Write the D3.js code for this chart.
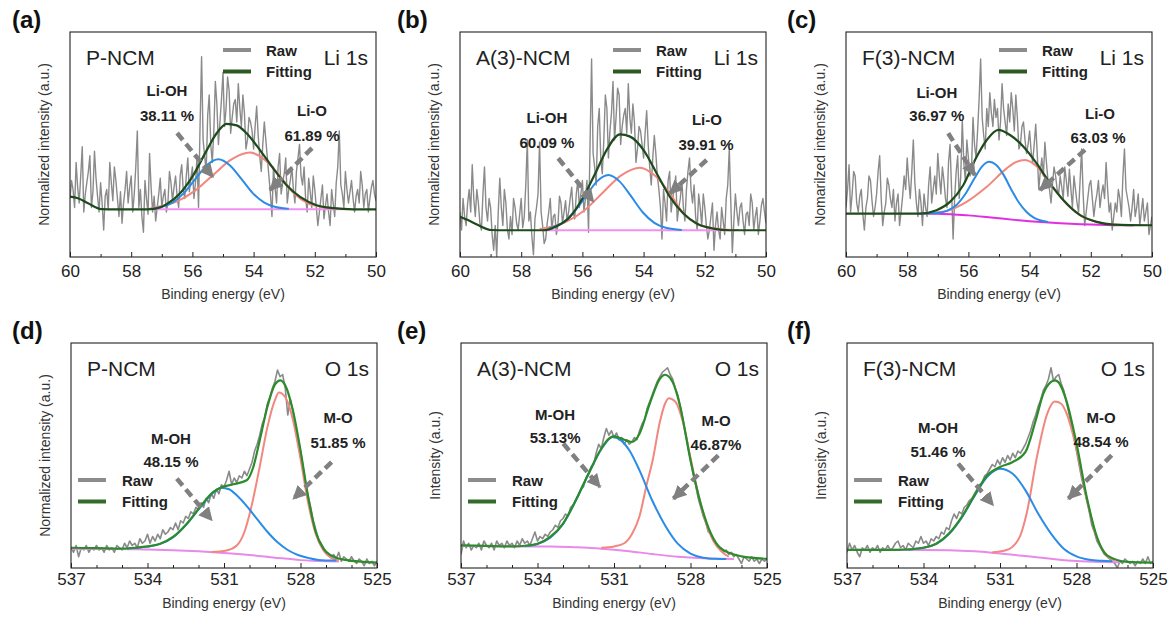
<!DOCTYPE html>
<html>
<head>
<meta charset="utf-8">
<script src="https://cdn.jsdelivr.net/npm/d3@7"></script>
<style>
body{margin:0;background:#fff;}
svg{display:block;font-family:Arial,"Liberation Sans",sans-serif;}
</style>
</head>
<body>
<svg id="fig" width="1169" height="619"></svg>
<script>
// scans: Li 1s from 60 to 50 eV (0.05 eV step), O 1s from 537 to 525 eV (0.1 eV step)
var liStart = 60, liStep = 0.05, oStart = 537, oStep = 0.1
var liTicks = [60,58,56,54,52,50], liMinor = [59,57,55,53,51]
var oTicks = [537,534,531,528,525], oMinor = [536,535,533,532,530,529,527,526]
var samples = ['P-NCM','A(3)-NCM','F(3)-NCM']
var liOHpct = ['38.11 %','60.09 %','36.97 %'], liOpct = ['61.89 %','39.91 %','63.03 %']
var mOHpct = ['48.15 %','53.13%','51.46 %'], mOpct = ['51.85 %','46.87%','48.54 %']

/*----- raw counts (normalized 0..100) -----*/
var rawA = [26,34,30,22,42,31,24,36,49,20,28,33,38,45,22,29,47,35,27,20,
  33,24,12,27,30,21,42,33,25,40,34,26,18,29,15,24,30,38,24,31,
  36,20,28,40,56,22,30,18,11,34,26,19,46,31,20,27,16,22,28,35,
  22,27,30,20,24,38,33,25,31,36,27,22,36,41,30,26,36,44,29,35,
  40,26,33,44,22,58,89,52,45,38,63,72,50,42,56,78,68,50,60,70,
  82,58,66,80,74,55,62,68,70,60,77,66,58,72,64,48,52,62,60,56,
  48,58,67,54,45,38,50,60,52,44,36,28,18,40,31,24,40,46,28,33,
  37,44,24,30,34,40,30,24,38,44,50,36,32,40,26,20,35,29,22,36,
  30,22,14,20,26,32,17,23,28,20,14,30,24,18,33,40,56,32,28,22,
  38,30,24,29,34,26,20,27,30,24,38,32,22,28,30,20,26,31,34,28, 25]
var rawB = [20,12,26,18,14,24,30,20,41,26,18,30,24,15,12,28,40,22,16,26,
  22,10,3,14,0,20,35,22,14,30,24,12,8,18,10,26,22,15,12,19,
  26,13,18,32,52,16,20,9,1,17,22,28,51,20,14,6,8,15,20,26,
  12,18,19,10,14,27,24,15,20,25,16,20,26,31,20,17,28,34,22,28,
  34,20,26,34,11,50,88,46,40,32,58,66,44,37,52,72,66,44,56,64,
  78,52,62,75,72,50,58,63,66,55,77,62,55,68,60,42,48,58,56,50,
  44,55,65,50,40,32,44,54,46,36,30,22,8,30,24,16,34,38,20,26,
  30,36,16,22,26,34,22,16,30,38,44,30,24,32,18,12,28,22,14,28,
  22,14,8,12,18,24,3,14,20,12,8,22,16,10,26,32,48,24,2,16,
  28,20,14,22,24,16,10,19,20,14,28,24,12,18,22,10,16,23,26,20, 15]
var rawC = [22,30,41,20,28,38,36,24,20,27,30,19,12,22,26,36,34,25,18,22,
  28,38,45,26,14,20,24,35,32,26,22,30,16,24,28,14,20,27,36,30,
  44,34,26,38,52,33,24,18,30,24,14,28,22,18,32,40,24,30,36,28,
  46,36,28,40,34,26,22,42,50,30,8,26,38,45,26,36,61,42,34,52,
  44,36,38,62,50,44,56,70,88,62,54,48,66,58,73,64,58,70,62,66,
  52,60,77,66,60,54,68,60,73,66,56,72,62,48,50,58,60,52,46,50,
  56,47,42,50,59,46,30,38,44,36,51,42,34,30,24,33,40,36,30,28,
  36,31,26,40,34,27,39,30,22,36,30,24,20,34,48,28,14,20,26,32,
  34,26,18,24,28,34,22,28,32,26,42,30,20,24,12,18,24,20,30,26,
  18,36,48,30,26,22,16,22,30,18,22,28,14,20,26,16,20,24,10,14, 18]
var rawD = [9,7,10,5,9,8,10,7,9,8, 10,8,9,7,10,8,9,7,10,9, 8,11,9,12,10,11,9,13,11,12,
  15,11,14,12,15,13,17,15,16,18, 17,20,17,21,20,23,22,25,24,27, 26,29,27,31,29,33,31,35,33,37,
  36,39,43,37,40,38,41,40,43,41, 44,47,52,55,59,64,67,73,76,80, 83,88,85,86,80,68,75,70,64,58,
  52,45,38,32,27,21,17,13,11,9, 7,6,5,6,4,7,3,5,4,3, 5,3,2,4,3,1,4,2,3,1, 3]
var rawE = [6,12,9,11,8,10,9,11,8,12, 10,9,11,8,12,10,11,9,12,10, 11,9,12,10,13,11,12,10,13,16,
  12,14,13,15,14,16,17,19,18,21, 22,24,23,27,28,30,32,35,36,40, 42,45,46,51,55,53,58,62,59,61,
  58,60,57,58,55,57,55,56,58,57, 61,64,66,71,74,77,80,83,85,87, 88,89,86,84,80,77,72,66,60,54,
  48,42,37,31,27,23,20,16,15,12, 11,9,9,7,8,6,7,5,6,4, 2,5,4,3,5,3,4,2,4,3, 4]
var rawF = [7,11,8,10,7,5,9,8,10,7, 9,8,10,7,9,8,10,8,9,11, 12,9,10,8,11,10,9,12,11,14,
  11,12,10,13,12,14,13,16,15,18, 17,21,24,22,25,24,27,28,30,31, 33,35,37,38,41,42,44,46,45,48,
  46,49,47,50,48,51,49,52,51,53, 55,58,61,65,68,72,75,79,81,84, 89,83,85,86,82,79,74,69,63,58,
  52,46,40,35,30,25,19,16,12,10, 8,6,5,4,3,2,0,3,2,4, 3,2,3,1,3,2,4,2,5,2, 3]

/*----- fitted curves [binding energy, intensity] -----*/
// P-NCM Li 1s
var envA = [[60,26.8],[59.74,26.1],[59.41,23.9],[58.98,21.3],[58.5,21.2],[57.5,21.2],[57.2,21.5],[56.84,23.5],[56.41,28.2],[55.97,36.4],[55.53,47.5],[55.21,55],[54.88,59.2],[54.55,58.5],[54.23,55],[53.79,47.5],[53.36,39.4],[52.92,31.9],[52.48,26.7],[51.94,23],[51.39,21.7],[50.74,21.2],[50,21.2]]
var ohA = [[57.3,21.4],[57.03,22.2],[56.65,24.2],[56.28,28.4],[55.9,34.7],[55.53,40.8],[55.15,43.4],[54.78,40.8],[54.4,34.7],[54.03,28.4],[53.65,24.2],[53.28,22.2],[52.9,21.5],[52.85,21.4]]
var oxA = [[57.4,21.5],[57.12,22.3],[56.52,24.6],[55.92,29.4],[55.32,36.5],[54.72,43.4],[54.12,46.4],[53.65,43.4],[53.17,36.5],[52.7,28.5],[52.22,23.8],[51.75,22.2],[51.27,21.5],[50.9,21.25]]
var bgA = [[57.28,21.2],[51,21.2]]
// A(3)-NCM Li 1s
var envB = [[60,17.9],[59.74,16.4],[59.41,14.2],[58.98,12],[58.5,11.9],[57.3,11.9],[56.84,13.7],[56.41,17.8],[55.97,26.7],[55.53,38.6],[55.21,47.5],[54.77,54.5],[54.44,53.5],[54.0,47.5],[53.57,37.1],[53.14,26.7],[52.7,19.3],[52.27,14.9],[51.72,12.6],[51.18,11.9],[50,11.9]]
var ohB = [[57.1,12.6],[57.03,13.0],[56.65,15.2],[56.28,19.9],[55.9,26.8],[55.53,33.5],[55.15,36.4],[54.78,33.5],[54.4,26.8],[54.03,19.9],[53.65,15.2],[53.28,13.0],[52.9,12.2],[52.75,12.0]]
var oxB = [[57.4,12.5],[57.12,13.1],[56.52,15.7],[55.92,20.9],[55.32,28.8],[54.72,36.4],[54.12,39.7],[53.65,36.4],[53.17,28.8],[52.7,19.5],[52.22,14.6],[51.75,12.9],[51.27,12.1],[50.9,11.95]]
var bgB = [[57.28,11.9],[51,11.9]]
// F(3)-NCM Li 1s
var envC = [[60,19.3],[57.58,19.3],[57.04,20.8],[56.6,24.5],[56.17,31.9],[55.73,44.6],[55.4,52],[55.02,56.5],[54.64,54.2],[54.2,49],[53.77,41.6],[53.33,32.7],[52.9,25.3],[52.35,18.6],[51.81,15.6],[51.26,14.4],[50,14.1]]
var ohC = [[57.5,19.35],[57.0,19.6],[56.7,20.5],[56.4,23.0],[56.1,28.0],[55.8,35.0],[55.55,40.3],[55.32,42.3],[55.1,41.0],[54.85,36.5],[54.6,30.0],[54.35,24.2],[54.1,20.0],[53.85,17.4],[53.6,16.1],[53.4,15.6]]
var oxC = [[57.5,19.4],[57.1,19.8],[56.71,20.5],[56.06,24.5],[55.4,31.2],[54.75,39.4],[54.45,42.2],[54.15,43.1],[53.77,40.3],[53.33,32.4],[52.9,25.2],[52.35,18.6],[51.81,15.6],[51.26,14.4],[50.6,14.1]]
var bgC = [[57.6,19.3],[57,19.2],[56.5,18.9],[56,18.5],[55.5,17.9],[55,17.2],[54.5,16.5],[54,15.9],[53.5,15.4],[53,15.0],[52.5,14.7],[52,14.4],[51.5,14.2],[51,14.1],[50.6,14.1]]
// P-NCM O 1s
var envD = [[537,9.0],[536,8.8],[535,8.6],[534.5,9.0],[534,9.6],[533.5,10.8],[533,13.8],[532.46,19.7],[531.94,27.1],[531.42,33.8],[531.16,35.6],[530.63,37.2],[530.11,39],[529.85,44.9],[529.6,56.7],[529.3,71.6],[529.0,81.6],[528.8,83.4],[528.6,81.2],[528.3,70.1],[528.0,52.3],[527.7,31.6],[527.4,16],[527.1,8.6],[526.8,5.6],[526.3,3.7],[525.5,2.7],[525,2.4]]
var ohD = [[534.8,8.7],[534,9.5],[533.5,10.7],[533,13.6],[532.46,19.5],[531.94,26.8],[531.42,33.4],[531.1,35.7],[530.8,35.0],[530.5,32.3],[530.1,27.4],[529.7,21.7],[529.3,16.1],[528.9,11.4],[528.5,8.0],[528.1,5.8],[527.7,4.5],[527.3,3.6],[526.6,3.3]]
var oxD = [[531.5,7.1],[530.9,7.8],[530.5,10],[530.2,16],[529.9,28.5],[529.6,45],[529.3,62.5],[529.0,74.7],[528.85,78],[528.6,76],[528.3,66],[528.0,48.5],[527.7,29],[527.4,15],[527.1,7.8],[526.8,4.5],[526.5,3.3]]
var bgD = [[537,8.6],[535,8.5],[534,8.2],[533,7.9],[532,7.4],[531,6.7],[530,5.8],[529,4.6],[528,3.5],[527,3.0],[526.5,2.9]]
// A(3)-NCM O 1s
var envE = [[537,10.1],[536,9.8],[535,9.6],[534.5,9.9],[534,10.8],[533.5,13.8],[533,19.7],[532.5,30.1],[532,41.9],[531.5,53],[531.2,57.5],[531.0,58.5],[530.6,57],[530.3,56],[530.0,59.7],[529.6,73],[529.2,84.1],[529.0,85.9],[528.7,82.7],[528.4,71.6],[528.0,47.9],[527.6,28.6],[527.2,15.3],[526.8,8.6],[526.0,5.2],[525,4.1]]
var ohE = [[534.5,9.8],[534,10.7],[533.5,13.5],[533,19.5],[532.5,30],[532,41.8],[531.5,52.8],[531.05,58.2],[530.7,56.5],[530.4,52.3],[530,43.4],[529.5,30],[529,19],[528.5,10.8],[528,6.4],[527.5,4.6],[527,4.1],[526.6,4.0]]
var oxE = [[531.5,9.0],[531,9.6],[530.6,11],[530.3,15],[530.0,23],[529.7,38],[529.5,47],[529.2,65],[529.0,73],[528.85,75.5],[528.6,74],[528.3,65],[528.0,49],[527.7,33],[527.4,20.5],[527.1,12],[526.8,7.5],[526.5,5]]
var bgE = [[537,9.8],[534.8,9.6],[533.5,9.6],[532.5,9.2],[531.5,8.6],[530.5,7.6],[529.5,6.2],[528.5,5.0],[527.5,4.3],[526.3,4.0]]
// F(3)-NCM O 1s
var envF = [[537,8.1],[535,8.1],[534,9.0],[533.5,10.8],[533,15.3],[532.5,22.7],[532,32.3],[531.5,41.2],[531,44.9],[530.5,47.1],[530,51.6],[529.6,65.6],[529.3,77.5],[529.0,82.7],[528.85,83.4],[528.7,82.5],[528.4,74.5],[528,55.3],[527.6,31.6],[527.2,13.8],[526.8,5.6],[526,2.7],[525,2.4]]
var ohF = [[534.6,8.1],[534,9.0],[533.5,10.7],[533,15.1],[532.5,22.4],[532,32],[531.5,40.5],[531,44.1],[530.5,41.9],[530,34.5],[529.5,24.1],[529,15.3],[528.5,8.6],[528,5.2],[527.5,3.7],[527,3.2],[526.6,3.0]]
var oxF = [[531.3,7.0],[530.8,7.8],[530.5,9.5],[530.2,14.5],[529.94,25],[529.55,49.5],[529.15,68.5],[528.85,74],[528.6,73],[528.4,69],[528.0,53],[527.6,30.8],[527.2,13.4],[526.8,5.5],[526.5,3.3]]
var bgF = [[537,8.1],[535,8.1],[533,7.9],[532,7.4],[531,6.4],[530,5.3],[529,4.1],[528,3.1],[527,2.7],[526.3,2.6]]

var panels = [
  {tag:'(a)', tagX:12, left:70, top:32, li:true, name:samples[0], ytitle:'Normalized intensity (a.u.)',
   raw:rawA, env:envA, c1:ohA, c2:oxA, bg:bgA, bgColor:'#f090f0',
   notes:[['Li-OH',56.83,73.8],[liOHpct[0],56.83,63.1],['Li-O',52.09,65.3],[liOpct[0],52.09,54.2]],
   arrows:[[56.5,55.1,55.33,35.6],[52.09,48.4,53.46,29.8]]},
  {tag:'(b)', tagX:397, left:460, top:32, li:true, name:samples[1], ytitle:'Normalized intensity (a.u.)',
   raw:rawB, env:envB, c1:ohB, c2:oxB, bg:bgB, bgColor:'#f090f0',
   notes:[['Li-OH',57.16,61.8],[liOHpct[1],57.16,51.1],['Li-O',51.93,60.9],[liOpct[1],51.96,49.8]],
   arrows:[[56.79,43.9,55.64,24.6],[51.94,43.1,53.14,28.3]]},
  {tag:'(c)', tagX:787, left:846, top:32, li:true, name:samples[2], ytitle:'Nomarilzed intensity (a.u.)',
   raw:rawC, env:envC, c1:ohC, c2:oxC, bg:bgC, bgColor:'#e02ee0',
   notes:[['Li-OH',57.03,72.9],[liOHpct[2],57.03,62.7],['Li-O',51.7,64],[liOpct[2],51.76,53.3]],
   arrows:[[56.66,55,55.79,36.4],[52.19,47.6,53.66,29.8]]},
  {tag:'(d)', tagX:12, left:71, top:343, li:false, name:samples[0], ytitle:'Normalized intensity (a.u.)',
   raw:rawD, env:envD, c1:ohD, c2:oxD, bg:bgD, bgColor:'#e88ae8',
   notes:[['M-OH',533.08,57.6],[mOHpct[0],533.08,47.4],['M-O',526.53,67],[mOpct[0],526.53,55.9]],
   arrows:[[532.85,39.7,531.48,21.2],[526.78,47.1,528.28,30.8]]},
  {tag:'(e)', tagX:397, left:461, top:343, li:false, name:samples[1], ytitle:'Intensity (a.u.)',
   raw:rawE, env:envE, c1:ohE, c2:oxE, bg:bgE, bgColor:'#e88ae8',
   notes:[['M-OH',533.31,68.3],[mOHpct[1],533.31,58.1],['M-O',527.0,65.6],[mOpct[1],527.0,55]],
   arrows:[[532.99,55.3,531.55,36],[526.91,50.1,528.67,30.8]]},
  {tag:'(f)', tagX:787, left:847, top:343, li:false, name:samples[2], ytitle:'Intensity (a.u.)',
   raw:rawF, env:envF, c1:ohF, c2:oxF, bg:bgF, bgColor:'#e88ae8',
   notes:[['M-OH',533.43,62.5],[mOHpct[2],533.43,51.9],['M-O',527.04,67],[mOpct[2],527.04,56.3]],
   arrows:[[532.64,46.4,531.27,27.9],[526.62,50.1,528.32,30.8]]}
]

var svg = d3.select('#fig'), pw = 306, ph = 225
var rawColor = '#8a8a8a', ohColor = '#2a8ce6', oxColor = '#f2877f', arrowColor = '#808080'

var defs = svg.append('defs')
defs.append('marker').attr('id','ah').attr('viewBox','0 0 10 10').attr('refX',9).attr('refY',5)
  .attr('markerWidth',14).attr('markerHeight',15).attr('markerUnits','userSpaceOnUse').attr('orient','auto')
  .append('path').attr('d','M0,0L10,5L0,10z').attr('fill',arrowColor)

panels.forEach(function(p, k){
  var g = svg.append('g')
  var x = d3.scaleLinear().domain(p.li ? [60,50] : [537,525]).range([p.left, p.left+pw])
  var y = d3.scaleLinear().domain([0,100]).range([p.top+ph, p.top])
  var start = p.li ? liStart : oStart, step = p.li ? liStep : oStep
  var fitColor = p.li ? '#1d4b1d' : '#2c8c2c'

  defs.append('clipPath').attr('id','cp'+k).append('rect')
    .attr('x',p.left).attr('y',p.top).attr('width',pw).attr('height',ph)

  var plot = g.append('g').attr('clip-path','url(#cp'+k+')')
  var rawLine = d3.line().x(function(d,i){ return x(start - i*step) }).y(function(d){ return y(d) })
  var fitLine = d3.line().x(function(d){ return x(d[0]) }).y(function(d){ return y(d[1]) }).curve(d3.curveMonotoneX)

  plot.append('path').attr('d', rawLine(p.raw)).attr('fill','none').attr('stroke',rawColor)
    .attr('stroke-width',p.li ? 1.4 : 1.6).attr('stroke-linejoin','round')
  plot.append('path').attr('d', fitLine(p.bg)).attr('fill','none').attr('stroke',p.bgColor).attr('stroke-width',2)
  plot.append('path').attr('d', fitLine(p.c2)).attr('fill','none').attr('stroke',oxColor).attr('stroke-width',2)
  plot.append('path').attr('d', fitLine(p.c1)).attr('fill','none').attr('stroke',ohColor).attr('stroke-width',2)
  plot.append('path').attr('d', fitLine(p.env)).attr('fill','none').attr('stroke',fitColor).attr('stroke-width',2.2)

  // dashed arrows
  p.arrows.forEach(function(a){
    g.append('line').attr('x1',x(a[0])).attr('y1',y(a[1])).attr('x2',x(a[2])).attr('y2',y(a[3]))
      .attr('stroke',arrowColor).attr('stroke-width',4.5).attr('stroke-dasharray','9,5')
      .attr('marker-end','url(#ah)')
  })
  // peak labels
  p.notes.forEach(function(n){
    g.append('text').attr('x',x(n[1])).attr('y',y(n[2])).attr('text-anchor','middle')
      .attr('dominant-baseline','central').attr('font-size',15).attr('font-weight','bold')
      .attr('fill','#222').text(n[0])
  })

  // frame
  g.append('rect').attr('x',p.left).attr('y',p.top).attr('width',pw).attr('height',ph)
    .attr('fill','none').attr('stroke','#222').attr('stroke-width',1.1)

  // bottom axis, inward ticks
  var ax = g.append('g').attr('transform','translate(0,'+(p.top+ph)+')')
    .call(d3.axisBottom(x).tickValues(p.li ? liTicks : oTicks).tickSize(-5).tickPadding(p.li ? 8 : 5).tickFormat(d3.format('d')))
  ax.attr('font-family',null).attr('font-size',null)
  ax.select('.domain').remove()
  ax.selectAll('line').attr('stroke','#222')
  ax.selectAll('text').attr('font-size',17).attr('fill','#222')
  var mx = g.append('g').attr('transform','translate(0,'+(p.top+ph)+')')
    .call(d3.axisBottom(x).tickValues(p.li ? liMinor : oMinor).tickSize(-3).tickFormat(''))
  mx.select('.domain').remove()
  mx.selectAll('line').attr('stroke','#222')

  // titles
  g.append('text').attr('x',p.left+pw/2).attr('y',p.top+ph+(p.li ? 42 : 40)).attr('text-anchor','middle')
    .attr('font-size',14).attr('fill','#333').text('Binding energy (eV)')
  g.append('text').attr('transform','translate('+(p.left-26)+','+(p.top+ph/2)+') rotate(-90)')
    .attr('text-anchor','middle').attr('dominant-baseline','central')
    .attr('font-size',14).attr('fill','#333').text(p.ytitle)
  g.append('text').attr('x',p.tagX).attr('y',p.top-4).attr('font-size',24).attr('font-weight','bold')
    .attr('fill','#111').text(p.tag)
  g.append('text').attr('x',p.left+16).attr('y',p.top+33).attr('font-size',21).attr('fill','#222').text(p.name)
  g.append('text').attr('x',p.left+pw-8).attr('y',p.top+33).attr('text-anchor','end')
    .attr('font-size',21).attr('fill','#222').text(p.li ? 'Li 1s' : 'O 1s')

  // legend
  var lx = p.li ? p.left+153 : p.left+7, ly = p.li ? p.top+18 : p.top+137
  var items = [['Raw','#8c8c8c'],['Fitting', p.li ? '#2d5a22' : '#336b28']]
  items.forEach(function(it, j){
    var yy = ly + j*21.5
    g.append('line').attr('x1',lx).attr('x2',lx+28).attr('y1',yy).attr('y2',yy)
      .attr('stroke',it[1]).attr('stroke-width',4)
    g.append('text').attr('x',lx+(p.li ? 43 : 44)).attr('y',yy+5.5).attr('font-size',15)
      .attr('font-weight','bold').attr('fill','#222').text(it[0])
  })
})
</script>
</body>
</html>
